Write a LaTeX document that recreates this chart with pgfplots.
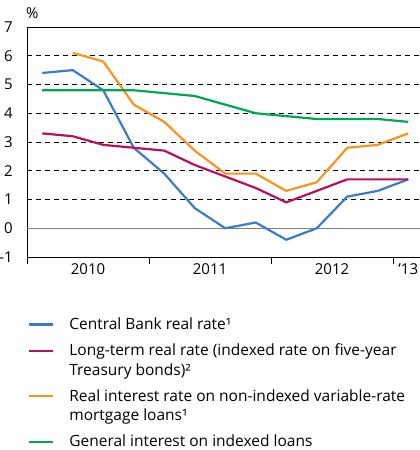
\documentclass[border=0pt]{standalone}
\usepackage{pgfplots}
\pgfplotsset{compat=1.18}
\usepackage{fontspec}
\setmainfont{Open Sans}
\definecolor{cbblue}{RGB}{59,125,196}
\definecolor{ltmag}{RGB}{181,18,94}
\definecolor{mortorange}{RGB}{247,148,29}
\definecolor{gengreen}{RGB}{0,166,81}
\pgfplotsset{
  oneline legend/.style={legend image code/.code={\draw[##1] (0bp,5bp) -- (24bp,5bp);}},
  twoline legend/.style={legend image code/.code={\draw[##1] (0bp,24.5bp) -- (24bp,24.5bp);}},
}
\begin{document}
\fontsize{15.5bp}{19.5bp}\selectfont
\begin{tikzpicture}
\useasboundingbox (-27bp,-193bp) rectangle (393bp,257bp);
\begin{axis}[
  scale only axis,
  width=393bp, height=230bp,
  xmin=0, xmax=12.885,
  ymin=-1, ymax=7,
  axis x line=box,
  axis y line*=left,
  axis line style={black, line width=0.8bp},
  xtick={0,4,8,12}, xticklabels={},
  xtick pos=bottom,
  tick align=outside,
  major tick length=7bp,
  xtick style={black, line width=0.8bp},
  extra x ticks={2,6,10,12.5},
  extra x tick labels={2010,2011,2012,{'13}},
  extra x tick style={major tick length=0pt, tick label style={yshift=-1bp}},
  ytick={-1,0,...,7},
  ytick style={draw=none},
  ymajorgrids,
  grid style={black, dash pattern=on 5bp off 4bp, line width=0.7bp},
  tick label style={font=\fontsize{15bp}{17bp}\selectfont, text=black},
  yticklabel style={inner sep=0pt, xshift=-7bp},
  /pgf/number format/assume math mode=true,
  ylabel={\%},
  ylabel style={rotate=-90, at={(axis description cs:0,1)}, anchor=south west, inner sep=0pt, xshift=-1bp, yshift=8bp, font=\fontsize{15bp}{17bp}\selectfont},
  legend style={at={(0,0)}, anchor=north west, xshift=1bp, yshift=-60.5bp,
    draw=none, fill=none, inner sep=0pt, row sep=12bp, column sep=15bp,
    nodes={inner sep=0pt},
    cells={anchor=base west, align=left},
    font=\fontsize{15.5bp}{19.5bp}\selectfont},
  oneline legend,
  every axis plot/.append style={line width=2.2bp},
  clip=false,
]
\addplot[gray, line width=1bp, forget plot] coordinates {(0,0) (12.885,0)};
\addplot[cbblue] coordinates {(0.5,5.4) (1.5,5.5) (2.5,4.8) (3.5,2.8) (4.5,1.9) (5.5,0.7) (6.5,0.0) (7.5,0.2) (8.5,-0.4) (9.5,0.0) (10.5,1.1) (11.5,1.3) (12.5,1.7)};
\addlegendentry{Central Bank real rate¹}
\addplot[ltmag, twoline legend] coordinates {(0.5,3.3) (1.5,3.2) (2.5,2.9) (3.5,2.8) (4.5,2.7) (5.5,2.2) (6.5,1.8) (7.5,1.4) (8.5,0.9) (9.5,1.3) (10.5,1.7) (11.5,1.7) (12.5,1.7)};
\addlegendentry{Long-term real rate (indexed rate on five-year\\Treasury bonds)²}
\addplot[mortorange, twoline legend] coordinates {(1.5,6.1) (2.5,5.8) (3.5,4.3) (4.5,3.7) (5.5,2.7) (6.5,1.9) (7.5,1.9) (8.5,1.3) (9.5,1.6) (10.5,2.8) (11.5,2.9) (12.5,3.3)};
\addlegendentry{Real interest rate on non-indexed variable-rate\\mortgage loans¹}
\addplot[gengreen] coordinates {(0.5,4.8) (1.5,4.8) (2.5,4.8) (3.5,4.8) (4.5,4.7) (5.5,4.6) (6.5,4.3) (7.5,4.0) (8.5,3.9) (9.5,3.8) (10.5,3.8) (11.5,3.8) (12.5,3.7)};
\addlegendentry{General interest on indexed loans}
\end{axis}
\end{tikzpicture}
\end{document}
